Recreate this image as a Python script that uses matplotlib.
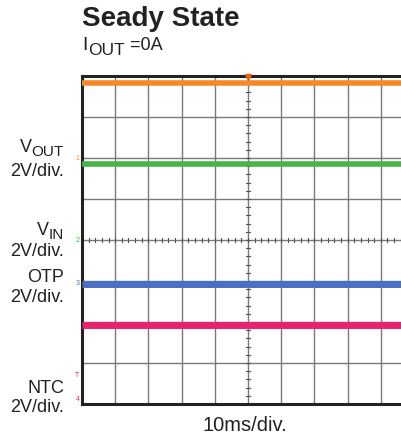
import matplotlib
matplotlib.use('Agg')
import matplotlib.pyplot as plt
import numpy as np

plt.rcParams['font.family'] = ['Liberation Sans', 'DejaVu Sans']

W, H = 401, 437

# scope capture, levels in divisions from bottom of screen
time_ms = [0, 100]
vout_div = [7.83, 7.83]
vin_div = [5.85, 5.85]
otp_div = [2.93, 2.93]
ntc_div = [1.93, 1.93]

# channel ground markers (div)
marker_pos = [6.0, 4.0, 2.93, 0.12]
marker_lbl = ['1', '2', '3', '4']

trace_colors = ['#f5892a', '#45b549', '#4a6fc4', '#e8226f']
txt_color = '#222222'

fig = plt.figure(figsize=(W / 100, H / 100), dpi=100)
renderer = fig.canvas.get_renderer()
ax = fig.add_axes([82 / W, 33 / H, 332 / W, 328 / H])
ax.set_xlim(0, 100)
ax.set_ylim(0, 8)

# grid
for gx in range(0, 101, 10):
    ax.axvline(gx, color='#7a7a7a', lw=1.0, zorder=1)
for gy in range(0, 9):
    ax.axhline(gy, color='#7a7a7a', lw=1.0, zorder=1)

# center cross ticks
for t in np.arange(0, 8.01, 0.2):
    ax.plot([49.3, 50.7], [t, t], color='#555555', lw=0.8, zorder=1)
for t in np.arange(0, 100.01, 2):
    ax.plot([t, t], [3.94, 4.06], color='#555555', lw=0.8, zorder=1)

series = [vout_div, vin_div, otp_div, ntc_div]
widths = [4, 4, 5, 5]
for ys, c, w in zip(series, trace_colors, widths):
    ax.plot(time_ms, ys, color=c, lw=w, solid_capstyle='butt', zorder=3)

# trigger marker
ax.plot([50], [7.97], marker='v', color='#e0641e', ms=4, clip_on=False, zorder=4)

# channel markers
for y, lbl, c in zip(marker_pos, marker_lbl, trace_colors):
    ax.text(-0.8, y, lbl, color=c, fontsize=5, ha='right', va='center',
            clip_on=False)
ax.text(-0.8, 0.7, 'T', color=trace_colors[3], fontsize=5, ha='right',
        va='center', clip_on=False)

for sp in ['left', 'bottom', 'top']:
    ax.spines[sp].set_linewidth(2.2)
    ax.spines[sp].set_color(txt_color)
ax.spines['right'].set_visible(False)
ax.set_xticks([])
ax.set_yticks([])


def px(x, y):
    return x / W, 1 - y / H


def right_sub_label(x, base, main, sub, size=13, subsize=11, drop=4):
    # subscript drawn first, main letter placed to its left
    t2 = fig.text(*px(x, base + drop), sub, fontsize=subsize, ha='right',
                  va='baseline', color=txt_color)
    bb = t2.get_window_extent(renderer)
    fig.text(bb.x0 / W, 1 - base / H, main, fontsize=size, ha='right',
             va='baseline', color=txt_color)


fig.text(*px(82, 26), 'Seady State', fontsize=20, fontweight='bold',
         ha='left', va='baseline', color=txt_color)

t1 = fig.text(*px(82, 50), 'I', fontsize=14, ha='left', va='baseline',
              color=txt_color)
bb = t1.get_window_extent(renderer)
t2 = fig.text(bb.x1 / W + 1 / W, 1 - 55 / H, 'OUT', fontsize=12.5, ha='left',
              va='baseline', color=txt_color)
bb = t2.get_window_extent(renderer)
fig.text(bb.x1 / W, 1 - 50 / H, ' =0A', fontsize=13, ha='left',
         va='baseline', color=txt_color)

right_sub_label(64, 152, 'V', 'OUT')
fig.text(*px(64, 176), '2V/div.', fontsize=13, ha='right', va='baseline',
         color=txt_color)
right_sub_label(64, 235, 'V', 'IN')
fig.text(*px(64, 256), '2V/div.', fontsize=13, ha='right', va='baseline',
         color=txt_color)
fig.text(*px(64, 282), 'OTP', fontsize=13, ha='right', va='baseline',
         color=txt_color)
fig.text(*px(64, 302), '2V/div.', fontsize=13, ha='right', va='baseline',
         color=txt_color)
fig.text(*px(64, 393), 'NTC', fontsize=13, ha='right', va='baseline',
         color=txt_color)
fig.text(*px(64, 412), '2V/div.', fontsize=13, ha='right', va='baseline',
         color=txt_color)

fig.text(*px(203, 431), '10ms/div.', fontsize=14.5, ha='left',
         va='baseline', color=txt_color)

fig.savefig('out.png', dpi=100)
